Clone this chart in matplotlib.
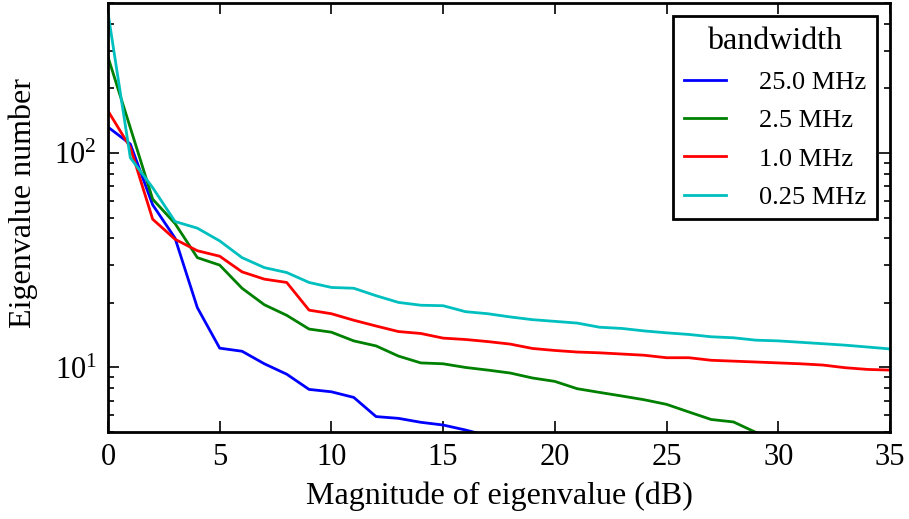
import numpy as np
import matplotlib
matplotlib.use('Agg')
import matplotlib.pyplot as plt

# eigenvalue curves for each bandwidth
x_25 = list(range(0, 18))
y_25 = [132, 110, 57.3, 40.1, 19.0, 12.3, 11.9, 10.4, 9.3, 7.9, 7.7, 7.25,
        5.9, 5.79, 5.55, 5.39, 5.11, 4.8]

x_2p5 = list(range(0, 31))
y_2p5 = [280, 131, 60.9, 46.9, 32.5, 30.0, 23.4, 19.6, 17.5, 15.1, 14.6, 13.3,
         12.6, 11.3, 10.5, 10.4, 10.0, 9.72, 9.42, 8.93, 8.61, 7.96, 7.65, 7.36,
         7.07, 6.73, 6.2, 5.72, 5.57, 4.98, 4.6]

x_1 = list(range(0, 36))
y_1 = [157, 106, 49.1, 39.6, 35.0, 33.0, 27.9, 25.8, 24.9, 18.5, 17.8, 16.6,
       15.6, 14.7, 14.4, 13.7, 13.5, 13.2, 12.85, 12.26, 12.0, 11.8, 11.7, 11.55,
       11.4, 11.1, 11.1, 10.8, 10.7, 10.6, 10.5, 10.4, 10.26, 9.97, 9.79, 9.72]

x_025 = list(range(0, 36))
y_025 = [450, 95, 68.9, 47.9, 44.6, 38.9, 32.5, 29.2, 27.7, 24.9, 23.6, 23.4,
         21.6, 20.1, 19.5, 19.4, 18.2, 17.8, 17.2, 16.7, 16.4, 16.1, 15.4, 15.2,
         14.8, 14.5, 14.25, 13.9, 13.75, 13.4, 13.3, 13.1, 12.9, 12.7, 12.45, 12.2]

plt.rcParams['font.family'] = ['Liberation Serif', 'DejaVu Serif']
plt.rcParams['mathtext.fontset'] = 'stix'

fig = plt.figure(figsize=(9.09, 5.19), dpi=100)
ax = fig.add_axes([0.1188, 0.1676, 0.979 - 0.1188, 0.9942 - 0.1676])

ax.plot(x_25, y_25, color='#0000ff', lw=2, label='25.0 MHz')
ax.plot(x_2p5, y_2p5, color='#008000', lw=2, label='2.5 MHz')
ax.plot(x_1, y_1, color='#ff0000', lw=2, label='1.0 MHz')
ax.plot(x_025, y_025, color='#00bfbf', lw=2, label='0.25 MHz')

ax.set_yscale('log')
ax.set_xlim(0, 35)
ax.set_ylim(5, 500)
ax.set_xticks([0, 5, 10, 15, 20, 25, 30, 35])

ax.set_xlabel('Magnitude of eigenvalue (dB)', fontsize=23, labelpad=7)
ax.set_ylabel('Eigenvalue number', fontsize=23)
ax.yaxis.set_label_coords(-0.09, 0.533)

ax.tick_params(which='both', direction='in', top=True, right=True,
               labelsize=22, width=1.2, pad=8)
ax.tick_params(which='major', length=8)
ax.tick_params(which='minor', length=4)
for s in ax.spines.values():
    s.set_linewidth(2)

leg = ax.legend(title='bandwidth', loc='upper right', fontsize=19,
                title_fontsize=23, fancybox=False, framealpha=1,
                handlelength=1.6, handletextpad=1.25, borderpad=0.4,
                labelspacing=0.56, borderaxespad=0.5)
leg.get_frame().set_edgecolor('black')
leg.get_frame().set_linewidth(2)

fig.savefig('out.png', dpi=100)
